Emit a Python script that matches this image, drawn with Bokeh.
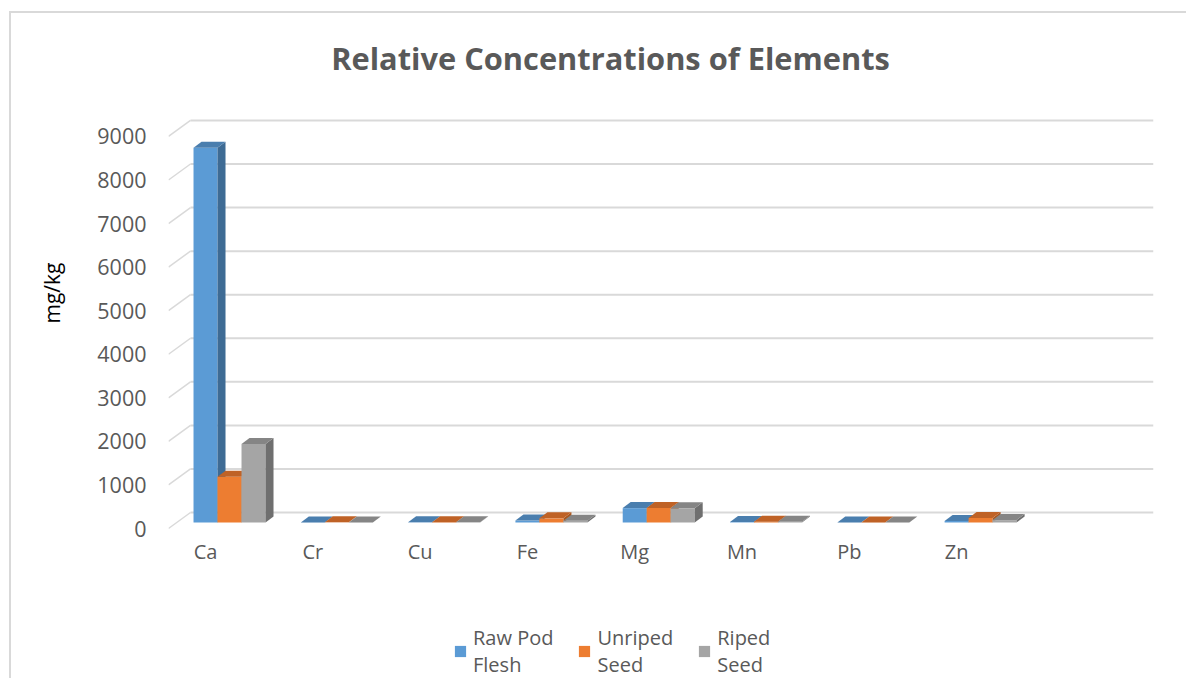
from bokeh.plotting import figure
from bokeh.models import Range1d, FixedTicker, Legend, LegendItem, Title, ColumnDataSource, Label
from bokeh.core.properties import value
from bokeh.embed import file_html
from bokeh.resources import INLINE

# ---------------- data ----------------
title_text = "Relative Concentrations of Elements"
categories = ["Ca", "Cr", "Cu", "Fe", "Mg", "Mn", "Pb", "Zn"]
raw_pod_flesh = [8600, 2, 5, 45, 330, 10, 1, 35]
unriped_seed = [1050, 3, 8, 95, 335, 20, 2, 105]
riped_seed = [1800, 1, 6, 40, 325, 15, 1, 55]
series_labels = ["Raw Pod\nFlesh", "Unriped\nSeed", "Riped\nSeed"]
y_ticks = [0, 1000, 2000, 3000, 4000, 5000, 6000, 7000, 8000, 9000]

# ---------------- style ----------------
front_colors = ["#5b9bd5", "#ed7d31", "#a5a5a5"]
side_colors = ["#3e6b94", "#a9571f", "#6f6f6f"]
top_colors = ["#4a7eae", "#bf6226", "#858585"]
grid_color = "#d9d9d9"
text_color = "#595959"
FONT = "Open Sans"

W, H = 1186, 678
FL, FR, FT, FB = 168, 1153, 20, 678    # frame edges in pixels
ZERO_PX = 528                          # pixel row of value 0 (front plane)
TOP9412_PX = 118                       # pixel row of value 9412
X0, X1 = -0.345, 8.835
px_x = (X1 - X0) / (FR - FL)          # data units per pixel (x)
px_y = 9412 / (ZERO_PX - TOP9412_PX)  # data units per pixel (y)
Y1 = (ZERO_PX - FT) * px_y
Y0 = -(FB - ZERO_PX) * px_y

bar_w = 24 * px_x
bar_base = 6 * px_y
bar_dx, bar_dy = 8 * px_x, 6 * px_y
wall_dx, wall_dy = 22 * px_x, 16 * px_y

p = figure(width=W, height=H, output_backend="svg", toolbar_location=None,
           x_range=Range1d(X0, X1), y_range=Range1d(Y0, Y1),
           min_border_left=FL, min_border_right=W - FR, min_border_top=FT,
           min_border_bottom=0, background_fill_alpha=0,
           border_fill_alpha=0, outline_line_color=None)
p.styles = {
    "background-color": "white",
    "background-image": "linear-gradient(#d9d9d9, #d9d9d9), linear-gradient(#d9d9d9, #d9d9d9)",
    "background-size": "2px 100%, 100% 2px",
    "background-position": "9px 11px, 9px 11px",
    "background-repeat": "no-repeat",
}

p.xgrid.visible = False
p.ygrid.visible = False
p.xaxis.visible = False

# back wall gridlines and diagonal floor ticks
p.segment(x0=[X0 + wall_dx] * len(y_ticks), y0=[t + wall_dy for t in y_ticks],
          x1=[X1] * len(y_ticks), y1=[t + wall_dy for t in y_ticks],
          line_color=grid_color, line_width=2)
p.segment(x0=[X0] * len(y_ticks), y0=y_ticks,
          x1=[X0 + wall_dx] * len(y_ticks), y1=[t + wall_dy for t in y_ticks],
          line_color=grid_color, line_width=1.5)

# pseudo 3D bars
legend_items = []
for s, vals in enumerate([raw_pod_flesh, unriped_seed, riped_seed]):
    fx, fy, sx, sy, tx, ty = [], [], [], [], [], []
    for i, v in enumerate(vals):
        xl = i - bar_w / 2 + s * bar_w
        xr = xl + bar_w
        b = bar_base
        t = bar_base + v
        fx.append([xl, xr, xr, xl]); fy.append([b, b, t, t])
        sx.append([xr, xr + bar_dx, xr + bar_dx, xr]); sy.append([b, b + bar_dy, t + bar_dy, t])
        tx.append([xl, xr, xr + bar_dx, xl + bar_dx]); ty.append([t, t, t + bar_dy, t + bar_dy])
    r = p.patches(fx, fy, fill_color=front_colors[s], line_color=None)
    p.patches(sx, sy, fill_color=side_colors[s], line_color=None)
    p.patches(tx, ty, fill_color=top_colors[s], line_color=None)
    legend_items.append(LegendItem(label=series_labels[s], renderers=[r]))

# category labels under the floor
cat_src = ColumnDataSource(dict(x=list(range(len(categories))),
                                y=[-23 * px_y] * len(categories),
                                text=categories))
p.text(x="x", y="y", text="text", source=cat_src, text_align="center",
       text_baseline="middle", text_font=value(FONT), text_font_size="20px",
       text_color=text_color)

# y axis
yax = p.yaxis[0]
yax.ticker = FixedTicker(ticks=y_ticks)
yax.axis_line_color = None
yax.major_tick_line_color = None
yax.minor_tick_line_color = None
yax.major_tick_out = 0
yax.major_tick_in = 0
yax.major_label_standoff = 22
yax.major_label_text_font = FONT
yax.major_label_text_font_size = "21.5px"
yax.major_label_text_color = text_color

# y axis title
ytitle = Title(text="mg/kg", align="right", offset=242, standoff=58,
               text_font=FONT, text_font_size="21px", text_font_style="normal",
               text_color="black")
p.add_layout(ytitle, "left")

# chart title (placed in the free space above the back wall)
title = Label(x=X0 + (610 - FL) * px_x, y=(ZERO_PX - 57) * px_y, text=title_text,
              text_align="center", text_baseline="middle", text_font=FONT,
              text_font_size="30.8px", text_font_style="bold", text_color=text_color)
p.add_layout(title)

legend = Legend(items=legend_items, orientation="horizontal",
                location=(285, 0), glyph_width=14, glyph_height=14,
                label_text_font=FONT, label_text_font_size="20px",
                label_text_color=text_color, label_standoff=6, spacing=24,
                padding=0, margin=0, border_line_color=None,
                background_fill_alpha=0)
p.add_layout(legend, "center")

open("out.html", "w").write(file_html(p, INLINE))
